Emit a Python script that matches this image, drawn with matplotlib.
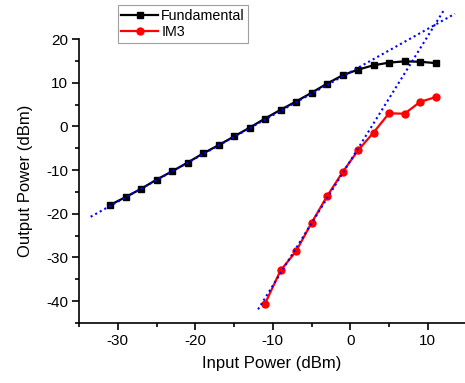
import matplotlib
matplotlib.use("Agg")
import matplotlib.pyplot as plt
import numpy as np
from matplotlib.ticker import MultipleLocator

plt.rcParams['font.family'] = ['Liberation Sans', 'DejaVu Sans']
plt.rcParams['axes.unicode_minus'] = False

fund_x = [-31, -29, -27, -25, -23, -21, -19, -17, -15, -13, -11, -9, -7, -5, -3, -1, 1, 3, 5, 7, 9, 11]
fund_y = [-18.0, -16.2, -14.3, -12.2, -10.3, -8.3, -6.2, -4.3, -2.3, -0.3, 1.8, 3.8, 5.7, 7.7, 9.8, 11.7,
          13.0, 14.0, 14.6, 14.9, 14.8, 14.5]
im3_x = [-11, -9, -7, -5, -3, -1, 1, 3, 5, 7, 9, 11]
im3_y = [-40.6, -33.0, -28.6, -22.1, -16.0, -10.5, -5.5, -1.4, 3.0, 2.9, 5.6, 6.7]

# extrapolation (fit) lines
fit1_x = [-33.5, 13.5]
fit1_y = [-20.7, 25.8]
fit3_x = [-11.9, 12.0]
fit3_y = [-41.9, 26.4]

fig = plt.figure(figsize=(4.65, 3.83), dpi=100)
ax = fig.add_axes([0.170, 0.157, 0.830, 0.741])

ax.plot(fund_x, fund_y, color='black', lw=1.6, marker='s', ms=4.5, label='Fundamental', zorder=3)
ax.plot(im3_x, im3_y, color='red', lw=1.6, marker='o', ms=5, label='IM3', zorder=3)
ax.plot(fit1_x, fit1_y, color='blue', lw=1.5, ls=(0, (1, 1.5)), clip_on=False, zorder=4)
ax.plot(fit3_x, fit3_y, color='blue', lw=1.5, ls=(0, (1, 1.5)), clip_on=False, zorder=4)

ax.set_xlim(-35, 14.8)
ax.set_ylim(-45, 20)
ax.xaxis.set_major_locator(MultipleLocator(10))
ax.xaxis.set_minor_locator(MultipleLocator(5))
ax.yaxis.set_major_locator(MultipleLocator(10))
ax.yaxis.set_minor_locator(MultipleLocator(5))
ax.spines['top'].set_visible(False)
ax.spines['right'].set_visible(False)
for s in ['left', 'bottom']:
    ax.spines[s].set_linewidth(1.2)
ax.tick_params(which='major', direction='out', length=5, width=1.2, labelsize=11, pad=3)
ax.tick_params(which='minor', direction='out', length=3, width=1.2)

ax.set_xlabel('Input Power (dBm)', fontsize=12, labelpad=6)
ax.set_ylabel('Output Power (dBm)', fontsize=12, labelpad=9)

leg = ax.legend(loc='upper left', bbox_to_anchor=(0.10, 1.12), fontsize=10.3, frameon=True,
                fancybox=False, edgecolor='#888888', handlelength=2.6, borderpad=0.25,
                labelspacing=0.2, handletextpad=0.2, borderaxespad=0)
leg.get_frame().set_linewidth(0.8)

fig.savefig('out.png', dpi=100)
